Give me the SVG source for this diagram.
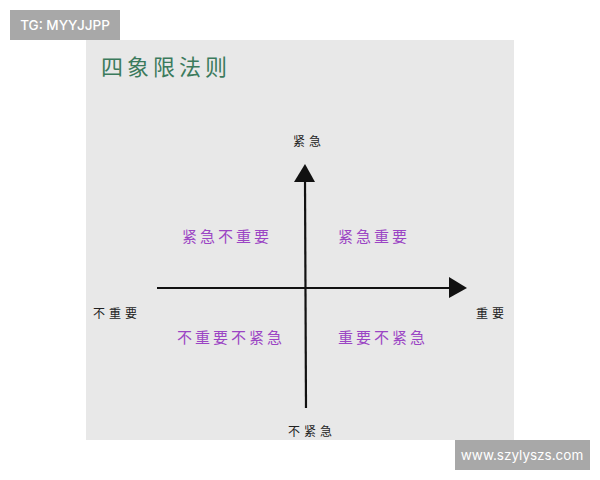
<svg xmlns="http://www.w3.org/2000/svg" width="600" height="480" viewBox="0 0 600 480">
<style>
.cjk{font-family:"Noto Sans CJK SC","Noto Sans",sans-serif;text-anchor:middle;dominant-baseline:central}
.ax{fill:#222;font-size:12px;letter-spacing:4px}
.q{fill:#9b45c4;font-size:15px;letter-spacing:3px}
.wm{font-family:Inter,"Liberation Sans",sans-serif;fill:#fff;font-size:13.5px;font-weight:500;text-anchor:middle;dominant-baseline:central}
</style>
<rect width="600" height="480" fill="#fff"/>
<rect x="86" y="40" width="428" height="400" fill="#e8e8e8"/>
<g id="watermark-top"><rect x="10" y="10" width="110" height="30" fill="#a8a8a8"/><text class="wm" x="65" y="25">TG: MYYJJPP</text></g>
<g id="watermark-bottom"><rect x="455" y="440" width="135" height="30" fill="#a8a8a8"/><text class="wm" x="522" y="455" style="font-weight:400">www.szylyszs.com</text></g>
<g id="title"><text class="cjk" x="166" y="65" fill="#3b7a5c" font-size="22" letter-spacing="4">四象限法则</text></g>
<g id="connectors" stroke="#111" stroke-width="2.2" fill="#111">
<line x1="305" y1="180" x2="306" y2="408"/>
<polygon points="305,164 294,182 315,182" stroke="none"/>
<line x1="157" y1="288" x2="451" y2="288"/>
<polygon points="467,288 449,277 449,298" stroke="none"/>
</g>
<g id="label-urgent"><text class="cjk ax" x="309" y="140">紧急</text></g>
<g id="label-not-urgent"><text class="cjk ax" x="312" y="430">不紧急</text></g>
<g id="label-not-important"><text class="cjk ax" x="117" y="312">不重要</text></g>
<g id="label-important"><text class="cjk ax" x="492" y="312">重要</text></g>
<g id="q-urgent-not-important"><text class="cjk q" x="227" y="235">紧急不重要</text></g>
<g id="q-urgent-important"><text class="cjk q" x="374" y="235">紧急重要</text></g>
<g id="q-not-important-not-urgent"><text class="cjk q" x="231" y="336">不重要不紧急</text></g>
<g id="q-important-not-urgent"><text class="cjk q" x="383" y="336">重要不紧急</text></g>
</svg>
